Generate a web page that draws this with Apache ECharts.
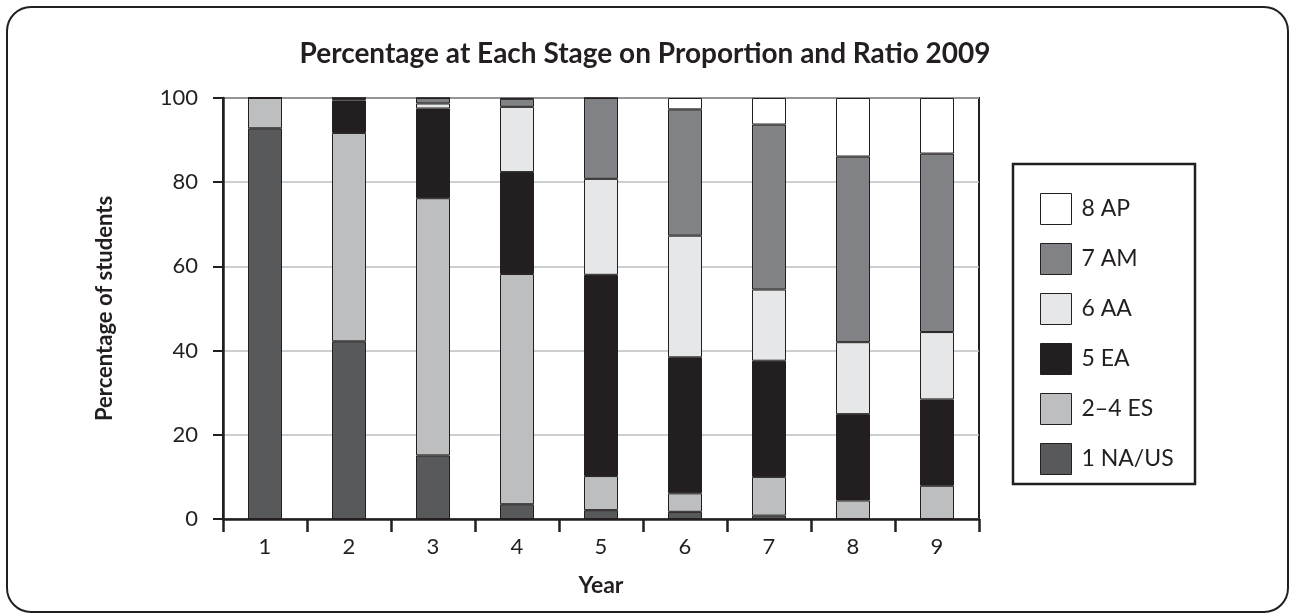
<!DOCTYPE html>
<html>
<head>
<meta charset="utf-8">
<script src="https://cdn.jsdelivr.net/npm/echarts@6/dist/echarts.min.js"></script>
<style>
html,body{margin:0;padding:0;background:#fff;}
#chart{width:1290px;height:614px;}
</style>
</head>
<body>
<div id="chart"></div>
<script>
const years = ['1','2','3','4','5','6','7','8','9'];
const yTicks = [0, 20, 40, 60, 80, 100];
const seriesNames = ['1 NA/US', '2\u20134 ES', '5 EA', '6 AA', '7 AM', '8 AP'];
const naUs = [92.8, 42.2, 15.1, 3.5, 2.1, 1.7, 0.8, 0, 0];
const es   = [7.2, 49.5, 61.1, 54.7, 8.1, 4.4, 9.2, 4.4, 7.9];
const ea   = [0, 7.7, 21.3, 24.2, 47.8, 32.3, 27.6, 20.5, 20.5];
const aa   = [0, 0.4, 1.2, 15.5, 22.8, 28.9, 16.9, 17.1, 16.0];
const am   = [0, 0.2, 1.3, 1.9, 19.2, 30.0, 39.2, 44.1, 42.4];
const ap   = [0, 0, 0, 0.2, 0, 2.7, 6.3, 13.9, 13.2];
const seriesColors = ['#58595b', '#bcbec0', '#231f20', '#e6e7e8', '#808285', '#ffffff'];

const FONT = 'Lato';
const INK = '#231f20';
const allData = [naUs, es, ea, aa, am, ap];

const chart = echarts.init(document.getElementById('chart'));
chart.setOption({
  animation: false,
  backgroundColor: '#ffffff',
  title: {
    text: 'Percentage at Each Stage on Proportion and Ratio 2009',
    left: 'center',
    top: 35,
    textStyle: {fontFamily: FONT, fontWeight: 'bold', fontSize: 28, color: INK}
  },
  grid: {
    left: 223, right: 311, top: 98, bottom: 95,
    show: true, borderColor: INK, borderWidth: 2, backgroundColor: 'transparent'
  },
  legend: {
    orient: 'vertical',
    left: 1035, top: 188,
    itemWidth: 31, itemHeight: 31, itemGap: 18,
    icon: 'rect',
    data: seriesNames.slice().reverse(),
    textStyle: {fontFamily: FONT, fontSize: 23, color: INK, padding: [0,0,0,5]},
    itemStyle: {borderColor: INK, borderWidth: 1}
  },
  xAxis: {
    type: 'category',
    data: years,
    name: 'Year',
    nameLocation: 'middle',
    nameGap: 55,
    nameTextStyle: {fontFamily: FONT, fontWeight: 'bold', fontSize: 23, color: INK},
    axisLine: {lineStyle: {color: INK, width: 2.5}},
    axisTick: {show: true, length: 13, lineStyle: {color: INK, width: 2.5}},
    axisLabel: {fontFamily: FONT, fontSize: 22, color: INK, margin: 17}
  },
  yAxis: {
    type: 'value',
    min: yTicks[0], max: yTicks[yTicks.length - 1], interval: 20,
    name: 'Percentage of students',
    nameLocation: 'middle',
    nameGap: 107,
    nameTextStyle: {fontFamily: FONT, fontWeight: 'bold', fontSize: 22, color: INK},
    axisLine: {show: true, lineStyle: {color: INK, width: 2.5}},
    axisTick: {show: true, length: 10, lineStyle: {color: INK, width: 2}},
    axisLabel: {fontFamily: FONT, fontSize: 22, color: INK, margin: 25},
    splitLine: {show: true, lineStyle: {color: '#bcbec0', width: 1.5}}
  },
  graphic: [
    {type: 'rect', shape: {x: 7, y: 7, width: 1281, height: 605, r: 24},
     style: {fill: 'none', stroke: INK, lineWidth: 2}, z: -1},
    {type: 'rect', shape: {x: 1013, y: 164, width: 182, height: 320},
     style: {fill: 'none', stroke: INK, lineWidth: 2.5}, z: 1}
  ],
  series: seriesNames.map((n, i) => ({
    name: n,
    type: 'bar',
    stack: 'total',
    barWidth: 34,
    data: allData[i],
    itemStyle: {color: seriesColors[i], borderColor: INK, borderWidth: 1}
  }))
});
</script>
</body>
</html>
